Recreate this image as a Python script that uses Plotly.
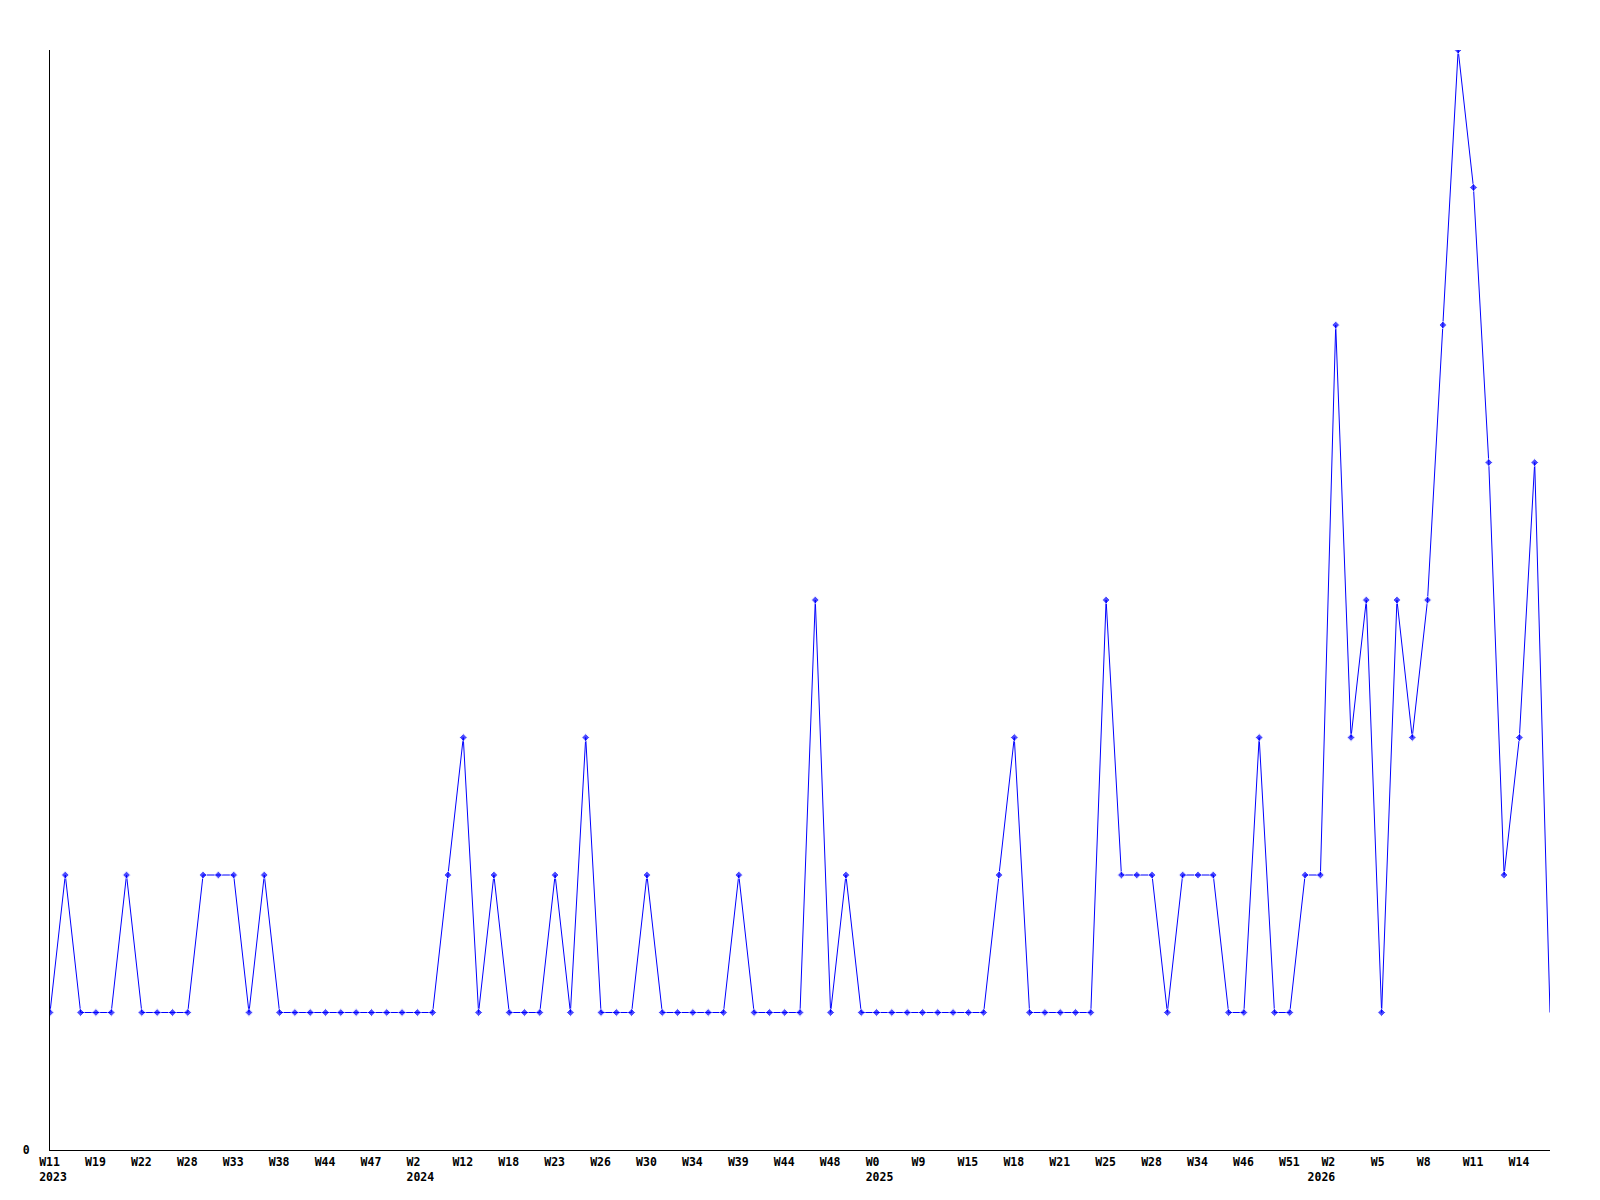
import plotly.graph_objects as go

# Weekly counts (one point per week, in order)
values = [
    1, 2, 1, 1, 1, 2, 1, 1, 1, 1,
    2, 2, 2, 1, 2, 1, 1, 1, 1, 1,
    1, 1, 1, 1, 1, 1, 2, 3, 1, 2,
    1, 1, 1, 2, 1, 3, 1, 1, 1, 2,
    1, 1, 1, 1, 1, 2, 1, 1, 1, 1,
    4, 1, 2, 1, 1, 1, 1, 1, 1, 1,
    1, 1, 2, 3, 1, 1, 1, 1, 1, 4,
    2, 2, 2, 1, 2, 2, 2, 1, 1, 3,
    1, 1, 2, 2, 6, 3, 4, 1, 4, 3,
    4, 6, 8, 7, 5, 2, 3, 5, 1,
]

# Tick labels shown every 3rd point
tick_weeks = ["W11", "W19", "W22", "W28", "W33", "W38", "W44", "W47", "W2", "W12",
              "W18", "W23", "W26", "W30", "W34", "W39", "W44", "W48", "W0", "W9",
              "W15", "W18", "W21", "W25", "W28", "W34", "W46", "W51", "W2", "W5",
              "W8", "W11", "W14"]
tick_years = {0: "2023", 8: "2024", 18: "2025", 28: "2026"}
tick_step = 3

NB = "\u00a0"
def pad(s, n=4):
    return s + NB * (n - len(s))

x = list(range(len(values)))
tickvals = [k * tick_step for k in range(len(tick_weeks))]
ticktext = []
for k, w in enumerate(tick_weeks):
    if k in tick_years:
        if k == 28:
            # last year label sits further left under its week label
            ticktext.append(NB * 2 + w + NB * 5 + "<br>" + tick_years[k] + NB * 5)
        else:
            ticktext.append(pad(w) + "<br>" + pad(tick_years[k]))
    else:
        ticktext.append(pad(w))

marker_sizes = [6] * (len(values) - 1) + [0]

tfont = dict(family="DejaVu Sans Mono", size=11.5, color="black", weight="bold")

fig = go.Figure(go.Scatter(
    x=x, y=values, mode="lines+markers",
    line=dict(color="#0000ff", width=1),
    marker=dict(symbol="diamond", size=marker_sizes, color="#0000ff"),
    hoverinfo="skip",
))

fig.update_layout(
    width=1592, height=1192,
    margin=dict(l=42, r=50, t=42, b=50, pad=0, autoexpand=False),
    paper_bgcolor="white", plot_bgcolor="white",
    showlegend=False,
    font=dict(family="DejaVu Sans Mono", size=11.5, color="black"),
)
fig.update_xaxes(
    range=[0, len(values) - 1],
    tickvals=tickvals, ticktext=ticktext,
    showgrid=False, zeroline=False,
    showline=True, linecolor="black", linewidth=1,
    ticks="", tickangle=0, ticklabelshift=3, ticklabelstandoff=1,
    tickfont=tfont,
)
fig.update_yaxes(
    range=[0, 8],
    tickvals=[0], ticktext=["0"],
    showgrid=False, zeroline=False,
    showline=True, linecolor="black", linewidth=1,
    ticks="", ticklabelstandoff=17,
    tickfont=tfont,
)

fig.write_html("out.html")
